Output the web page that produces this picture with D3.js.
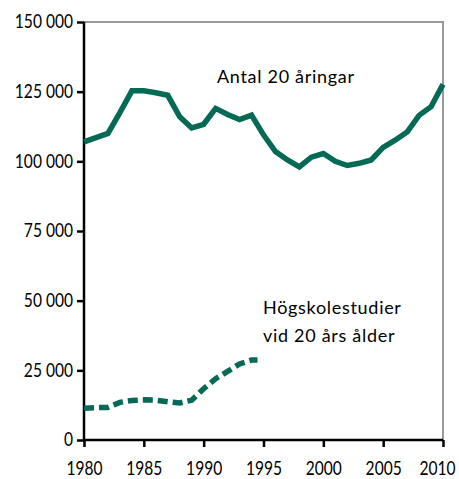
<!DOCTYPE html>
<html>
<head>
<meta charset="utf-8">
<script src="https://cdn.jsdelivr.net/npm/d3@7"></script>
<style>
    body { margin: 0; background: #fff; }
    text { font-family: Lato, 'Open Sans', sans-serif; }
</style>
</head>
<body>
<script>

// Antal 20-åringar per år
var years = [1980, 1981, 1982, 1983, 1984, 1985, 1986, 1987, 1988, 1989,
             1990, 1991, 1992, 1993, 1994, 1995, 1996, 1997, 1998, 1999,
             2000, 2001, 2002, 2003, 2004, 2005, 2006, 2007, 2008, 2009, 2010];
var antal = [107000, 108500, 110000, 117500, 125300, 125300, 124600, 123700, 116000, 112000,
             113300, 119000, 116800, 115000, 116600, 109500, 103500, 100500, 98000, 101500,
             102800, 100000, 98500, 99300, 100500, 105000, 107600, 110500, 116500, 119600, 127600];

// Högskolestudier vid 20 års ålder
var studYears = [1980, 1981, 1982, 1983, 1984, 1985, 1986, 1987, 1988, 1989,
                 1990, 1991, 1992, 1993, 1994, 1994.5];
var studier = [11400, 11600, 11700, 13500, 14200, 14400, 14300, 13700, 13300, 14300,
               18400, 22000, 24600, 27300, 28700, 28700];

var xTicks = [1980, 1985, 1990, 1995, 2000, 2005, 2010];
var yTicks = [0, 25000, 50000, 75000, 100000, 125000, 150000];

var width = 459,
    height = 479,
    margin = {top: 22, right: 16, bottom: 39, left: 84},
    green = '#056a55',
    squeeze = 0.82;   // tick font is narrow in the original

var svg = d3.select('body')
    .append('svg')
    .attr('width', width)
    .attr('height', height);

var x = d3.scaleLinear()
    .domain([1980, 2010])
    .range([margin.left, width - margin.right]);

var y = d3.scaleLinear()
    .domain([0, 150000])
    .range([height - margin.bottom, margin.top]);

var fmt = d3.formatLocale({decimal: ',', thousands: ' ', grouping: [3], currency: ['', ' kr']}).format(',d');

// grey frame top + right
svg.append('path')
    .attr('d', 'M' + x(1980) + ',' + y(150000) + 'H' + x(2010) + 'V' + y(0))
    .attr('fill', 'none')
    .attr('stroke', '#999')
    .attr('stroke-width', 2);

var xAxis = svg.append('g')
    .attr('transform', 'translate(0,' + y(0) + ')')
    .call(d3.axisBottom(x).tickValues(xTicks).tickFormat(d3.format('d')).tickSize(7));

var yAxis = svg.append('g')
    .attr('transform', 'translate(' + x(1980) + ',0)')
    .call(d3.axisLeft(y).tickValues(yTicks).tickFormat(fmt).tickSize(7));

[xAxis, yAxis].forEach(function(ax) {
    ax.select('.domain').attr('stroke', '#000').attr('stroke-width', 2.5);
    ax.selectAll('.tick line').attr('stroke', '#000').attr('stroke-width', 2.5);
    ax.selectAll('.tick text')
        .attr('fill', '#000')
        .attr('transform', 'scale(' + squeeze + ',1)')
        .style('font-size', '19px')
        .style('font-family', "Lato, 'Open Sans', sans-serif");
});
yAxis.select('.domain').attr('d', 'M0,' + y(0) + 'V' + y(150000));
xAxis.select('.domain').attr('d', 'M' + x(1980) + ',0H' + x(2010));

yAxis.selectAll('.tick text')
    .attr('x', -11 / squeeze)
    .attr('dy', '0.3em');

xAxis.selectAll('.tick text')
    .attr('y', 22);

// keep the last year label inside the page
xAxis.selectAll('.tick text')
    .filter(function(d) { return d === 2010; })
    .attr('dx', -6 / squeeze);

var line = d3.line()
    .x(function(d) { return x(d[0]); })
    .y(function(d) { return y(d[1]); });

svg.append('path')
    .datum(d3.zip(years, antal))
    .attr('d', line)
    .attr('fill', 'none')
    .attr('stroke', green)
    .attr('stroke-width', 5.5)
    .attr('stroke-linejoin', 'miter');

svg.append('path')
    .datum(d3.zip(studYears, studier))
    .attr('d', line)
    .attr('fill', 'none')
    .attr('stroke', green)
    .attr('stroke-width', 5.5)
    .attr('stroke-dasharray', '10,5');

var notes = svg.append('g')
    .style('font-size', '18px')
    .style('letter-spacing', '0.7px');

notes.append('text')
    .attr('x', 217)
    .attr('y', 83)
    .text('Antal 20 åringar');

notes.append('text')
    .attr('x', 263)
    .attr('y', 314)
    .text('Högskolestudier');

notes.append('text')
    .attr('x', 263)
    .attr('y', 342)
    .text('vid 20 års ålder');

</script>
</body>
</html>
